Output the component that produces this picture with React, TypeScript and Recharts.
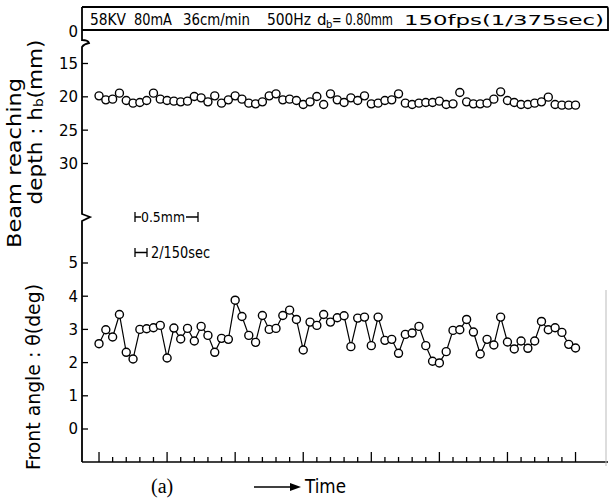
import React from 'react';
import { LineChart, Line, XAxis, YAxis } from 'recharts';

// frame index (time), 150 fps
const frames = [
  0, 1, 2, 3, 4, 5, 6, 7, 8, 9, 10, 11, 12, 13, 14, 15, 16, 17, 18, 19,
  20, 21, 22, 23, 24, 25, 26, 27, 28, 29, 30, 31, 32, 33, 34, 35, 36, 37, 38, 39,
  40, 41, 42, 43, 44, 45, 46, 47, 48, 49, 50, 51, 52, 53, 54, 55, 56, 57, 58, 59,
  60, 61, 62, 63, 64, 65, 66, 67, 68, 69, 70,
];

// beam reaching depth h_b (mm)
const depthValues = [
  19.85, 20.45, 20.35, 19.45, 20.55, 20.95, 20.85, 20.55, 19.45, 20.35,
  20.55, 20.65, 20.75, 20.65, 19.95, 20.15, 20.75, 19.85, 20.95, 20.45,
  19.85, 20.35, 20.95, 21.05, 20.75, 19.85, 19.55, 20.45, 20.35, 20.55,
  21.15, 20.75, 19.95, 21.15, 19.55, 20.45, 20.85, 20.15, 20.55, 19.85,
  21.05, 20.95, 20.55, 20.45, 19.55, 20.95, 21.15, 20.95, 20.85, 20.85,
  20.65, 21.15, 21.05, 19.35, 20.75, 21.05, 21.05, 20.95, 20.35, 19.25,
  20.55, 20.85, 21.15, 21.15, 20.95, 20.75, 20.05, 21.15, 21.25, 21.25,
  21.25,
];

// front angle theta (deg)
const angleValues = [
  2.57, 2.99, 2.77, 3.45, 2.31, 2.11, 3.0, 3.02, 3.05, 3.12,
  2.14, 3.04, 2.71, 3.03, 2.65, 3.09, 2.82, 2.31, 2.73, 2.7,
  3.88, 3.39, 2.82, 2.61, 3.42, 3.0, 3.03, 3.42, 3.58, 3.3,
  2.38, 3.22, 3.12, 3.45, 3.22, 3.35, 3.41, 2.48, 3.34, 3.37,
  2.51, 3.37, 2.67, 2.7, 2.28, 2.85, 2.89, 3.09, 2.51, 2.04,
  1.99, 2.33, 2.97, 2.99, 3.3, 2.92, 2.26, 2.7, 2.53, 3.37,
  2.62, 2.41, 2.65, 2.43, 2.65, 3.24, 2.99, 3.05, 2.91, 2.55,
  2.44,
];

const timeTicks = [
  0, 2, 4, 6, 8, 10, 12, 14, 16, 18, 20, 22, 24, 26, 28, 30, 32, 34, 36,
  38, 40, 42, 44, 46, 48, 50, 52, 54, 56, 58, 60, 62, 64, 66, 68, 70,
];
const majorTimeTicks = [0, 10, 20, 30, 40, 50, 60, 70];
const angleTicks = [0, 1, 2, 3, 4, 5];
const depthTickValues = [10.28, 15, 20, 25, 30];
const depthTickLabels = ['0', '15', '20', '25', '30'];

const data = frames.map((t, i) => ({ t, depth: depthValues[i], angle: angleValues[i] }));

const W = 609;
const H = 501;
const MARGIN = { top: 7, right: 1, bottom: 29, left: 0 };
const X_DOMAIN: [number, number] = [-2.5, 74.77];
const FONT = '"DejaVu Sans", "Noto Sans", sans-serif';

const renderXTick = (props: any) => {
  const { x, y, payload } = props;
  const big = majorTimeTicks.includes(payload.value);
  return <line key={`xt-${payload.value}`} x1={x} x2={x} y1={y} y2={y - (big ? 10 : 5)} stroke="#000" strokeWidth={1.3} />;
};

const renderAngleTick = (props: any) => {
  const { x, y, payload } = props;
  return (
    <g key={`at-${payload.value}`}>
      <line x1={x} x2={x + 6} y1={y} y2={y} stroke="#000" strokeWidth={1.3} />
      <text x={x - 4} y={y} dy="0.36em" textAnchor="end" fontSize={15} fontFamily={FONT} fill="#000">
        {payload.value}
      </text>
    </g>
  );
};

const renderDepthTick = (props: any) => {
  const { x, y, payload, index } = props;
  const i = depthTickValues.indexOf(payload.value);
  const k = i >= 0 ? i : index;
  return (
    <g key={`dt-${payload.value}`}>
      {k > 0 && <line x1={x} x2={x + 6} y1={y} y2={y} stroke="#000" strokeWidth={1.3} />}
      <text x={x - 4} y={y} dy="0.36em" textAnchor="end" fontSize={15} fontFamily={FONT} fill="#000">
        {depthTickLabels[k]}
      </text>
    </g>
  );
};

const dotStyle = { r: 4, stroke: '#000', strokeWidth: 1.4, fill: '#fff' };

export default function App() {
  return (
    <div style={{ position: 'absolute', left: 0, top: 0, width: W, height: H, background: '#fff' }}>
      {/* front angle panel + time axis */}
      <div style={{ position: 'absolute', left: 0, top: 0 }}>
        <LineChart width={W} height={H} data={data} margin={MARGIN}>
          <XAxis
            dataKey="t"
            type="number"
            domain={X_DOMAIN}
            allowDataOverflow
            ticks={timeTicks}
            interval={0}
            height={10}
            tickSize={0}
            tickMargin={0}
            tickLine={false}
            tick={renderXTick}
            axisLine={{ stroke: '#000', strokeWidth: 1.6 }}
          />
          <YAxis
            yAxisId="angle"
            type="number"
            domain={[-0.994, 12.711]}
            allowDataOverflow
            ticks={angleTicks}
            interval={0}
            width={82}
            tickSize={0}
            tickMargin={0}
            tickLine={false}
            axisLine={false}
            tick={renderAngleTick}
          />
          <Line
            yAxisId="angle"
            dataKey="angle"
            type="linear"
            stroke="#000"
            strokeWidth={1.2}
            dot={dotStyle}
            isAnimationActive={false}
          />
        </LineChart>
      </div>
      {/* beam reaching depth panel */}
      <div style={{ position: 'absolute', left: 0, top: 0 }}>
        <LineChart width={W} height={H} data={data} margin={MARGIN}>
          <XAxis dataKey="t" type="number" domain={X_DOMAIN} allowDataOverflow height={10} tick={false} tickLine={false} axisLine={false} />
          <YAxis
            yAxisId="depth"
            type="number"
            reversed
            domain={[6.525, 74.78]}
            allowDataOverflow
            ticks={depthTickValues}
            interval={0}
            width={82}
            tickSize={0}
            tickMargin={0}
            tickLine={false}
            axisLine={false}
            tick={renderDepthTick}
          />
          <Line
            yAxisId="depth"
            dataKey="depth"
            type="linear"
            stroke="none"
            strokeWidth={0}
            dot={dotStyle}
            isAnimationActive={false}
          />
        </LineChart>
      </div>
      {/* annotations */}
      <svg width={W} height={H} style={{ position: 'absolute', left: 0, top: 0, pointerEvents: 'none' }}>
        {/* header box */}
        <path d="M82,7 H607 Q608,7 608,10 V30 H82" fill="none" stroke="#000" strokeWidth={1.8} />
        {/* left axis with breaks */}
        <path
          d="M82,7 V40 Q88,40 89,43 Q84,44 82,47 V214 L90,217 L82,221 V462"
          fill="none"
          stroke="#000"
          strokeWidth={1.8}
        />
        <line x1={606} x2={606} y1={290} y2={466} stroke="#bbb" strokeWidth={1} />
        <g fontFamily={FONT} fontSize={15} fill="#000">
          <text x={90} y={25} textLength={36} lengthAdjust="spacingAndGlyphs">58KV</text>
          <text x={134} y={25} textLength={38} lengthAdjust="spacingAndGlyphs">80mA</text>
          <text x={183} y={25} textLength={67} lengthAdjust="spacingAndGlyphs">36cm/min</text>
          <text x={267} y={25} textLength={44} lengthAdjust="spacingAndGlyphs">500Hz</text>
          <text x={317} y={25}>d</text>
          <text x={326} y={28} fontSize={10}>b</text>
          <text x={332} y={25} textLength={61} lengthAdjust="spacingAndGlyphs">= 0.80mm</text>
          <text x={404} y={25} fontSize={14} textLength={200} lengthAdjust="spacingAndGlyphs">150fps(1/375sec)</text>
        </g>
        {/* scale bars */}
        <path d="M135,212 V222 M135,217 H141 M186,217 H198 M198,212 V222" stroke="#000" strokeWidth={1.3} fill="none" />
        <text x={141} y={222} fontFamily={FONT} fontSize={14} textLength={44} lengthAdjust="spacingAndGlyphs">0.5mm</text>
        <path d="M135,248 V257 M135,252.5 H147 M147,248 V257" stroke="#000" strokeWidth={1.3} fill="none" />
        <text x={151} y={258} fontFamily={FONT} fontSize={15} textLength={59} lengthAdjust="spacingAndGlyphs">2/150sec</text>
        {/* y titles */}
        <text
          x={14}
          y={163}
          transform="rotate(-90, 14, 163)"
          textAnchor="middle"
          dominantBaseline="central"
          fontFamily={FONT}
          fontSize={19}
          textLength={170}
          lengthAdjust="spacingAndGlyphs"
        >
          Beam reaching
        </text>
        <text
          x={35}
          y={122}
          transform="rotate(-90, 35, 122)"
          textAnchor="middle"
          dominantBaseline="central"
          fontFamily={FONT}
          fontSize={19}
          textLength={165}
          lengthAdjust="spacingAndGlyphs"
        >
          depth : h<tspan fontSize={12} dy={4}>b</tspan>
          <tspan dy={-4}>(mm)</tspan>
        </text>
        <text
          x={33}
          y={377}
          transform="rotate(-90, 33, 377)"
          textAnchor="middle"
          dominantBaseline="central"
          fontFamily={FONT}
          fontSize={19}
          textLength={186}
          lengthAdjust="spacingAndGlyphs"
        >
          Front angle : θ(deg)
        </text>
        {/* bottom labels */}
        <text x={151} y={493} fontFamily='"Liberation Serif", "DejaVu Serif", serif' fontSize={20}>(a)</text>
        <path d="M254,487 H292" stroke="#000" strokeWidth={1.6} />
        <path d="M290,483 L301,487 L290,491 Z" fill="#000" />
        <text x={305} y={493} fontFamily={FONT} fontSize={19} textLength={41} lengthAdjust="spacingAndGlyphs">Time</text>
      </svg>
    </div>
  );
}
